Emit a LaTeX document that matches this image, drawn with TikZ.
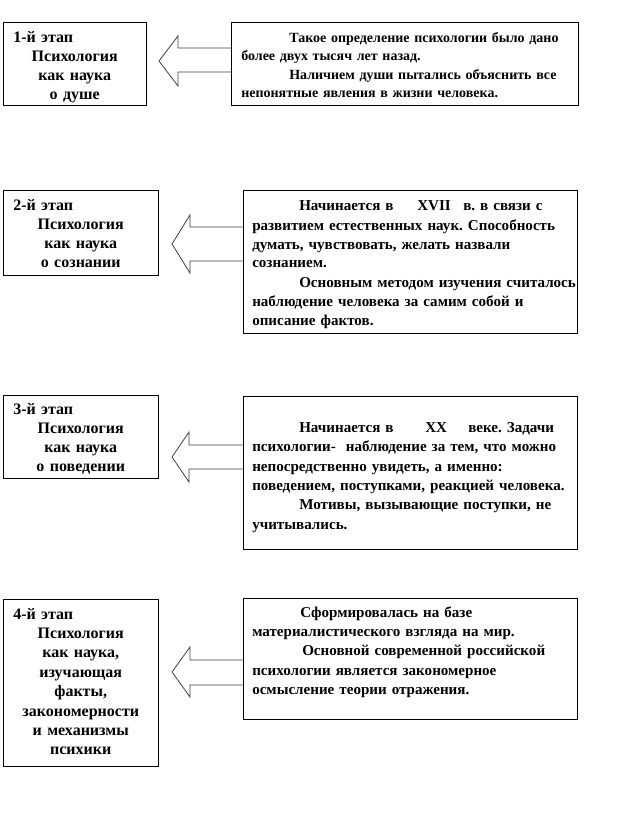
\documentclass[tikz,border=0pt]{standalone}
\usepackage{fontspec}
\setmainfont{Liberation Serif}
\usetikzlibrary{calc}
\newlength\pxu \setlength\pxu{0.75pt}
\frenchspacing
\tikzset{
  stagebox/.style={draw=black, line width=0.75pt, fill=white, inner sep=0pt, outer sep=0pt, rectangle},
  blockarrow/.style={draw=black!75, line width=0.6pt, fill=white, line join=miter},
  txtL/.style={font=\fontsize{12pt}{14.25pt}\selectfont\bfseries, inner sep=0pt, anchor=base west, align=center},
  txtR/.style={font=\fontsize{11.3pt}{14.25pt}\selectfont\bfseries, inner sep=0pt, anchor=base west, align=left, text width=380\pxu},
}
\begin{document}
\begin{tikzpicture}[x=0.75pt,y=-0.75pt]
\useasboundingbox (0,0) rectangle (639,827);
% arrows
\draw[blockarrow] (231,48) -- (178,48) -- (178,36) -- (159,61) -- (178,86) -- (178,72) -- (231,72);
\draw[blockarrow] (243,227) -- (190,227) -- (190,215) -- (172,244) -- (190,273) -- (190,261) -- (243,261);
\draw[blockarrow] (243,445) -- (189,445) -- (189,432) -- (172,457) -- (189,482) -- (189,469) -- (243,469);
\draw[blockarrow] (243,660) -- (190,660) -- (190,647) -- (172,672) -- (190,697) -- (190,685) -- (243,685);
% boxes
\node[stagebox, minimum width=143\pxu, minimum height=83\pxu] (l1) at (74.5,64.5) {};
\node[stagebox, minimum width=347\pxu, minimum height=83\pxu] (r1) at (404.5,64.5) {};
\node[stagebox, minimum width=155\pxu, minimum height=84\pxu] (l2) at (80.5,233) {};
\node[stagebox, minimum width=334\pxu, minimum height=142\pxu] (r2) at (410,262) {};
\node[stagebox, minimum width=155\pxu, minimum height=83\pxu] (l3) at (80.5,436.5) {};
\node[stagebox, minimum width=334\pxu, minimum height=153\pxu] (r3) at (410,472.5) {};
\node[stagebox, minimum width=155\pxu, minimum height=167\pxu] (l4) at (80.5,682.5) {};
\node[stagebox, minimum width=334\pxu, minimum height=121\pxu] (r4) at (410,658.5) {};
% left texts
\node[txtL, text width=123\pxu] (l1t) at ($(l1.north west)+(10,19.5)$)
  {\hbox to\linewidth{1-й этап\hfil}\\Психология\\как наука\\о душе};
\node[txtL, text width=135\pxu] (l2t) at ($(l2.north west)+(10,19)$)
  {\hbox to\linewidth{2-й этап\hfil}\\Психология\\как наука\\о сознании};
\node[txtL, text width=135\pxu] (l3t) at ($(l3.north west)+(10,19)$)
  {\hbox to\linewidth{3-й этап\hfil}\\Психология\\как наука\\о поведении};
\node[txtL, text width=135\pxu, font=\fontsize{12pt}{14.55pt}\selectfont\bfseries] (l4t) at ($(l4.north west)+(10,20)$)
  {\hbox to\linewidth{4-й этап\hfil}\\Психология\\как наука,\\изучающая\\факты,\\закономерности\\и механизмы\\психики};
% right texts
\node[txtR, font=\fontsize{10.5pt}{13.7pt}\selectfont\bfseries] (r1t) at ($(r1.north west)+(10,19.5)$)
  {\hspace*{48\pxu}Такое определение психологии было дано\\
   более двух тысяч лет назад.\\
   \hspace*{48\pxu}Наличием души пытались объяснить все\\
   непонятные явления в жизни человека.};
\node[txtR] (r2t) at ($(r2.north west)+(9,20)$)
  {\hspace*{47\pxu}\makebox[118\pxu][l]{Начинается в}\makebox[46\pxu][l]{XVII}в. в связи с\\
   развитием естественных наук. Способность\\
   думать, чувствовать, желать назвали\\
   сознанием.\\
   \hspace*{47\pxu}Основным методом изучения считалось\\
   наблюдение человека за самим собой и\\
   описание фактов.};
\node[txtR, font=\fontsize{11.3pt}{14.5pt}\selectfont\bfseries] (r3t) at ($(r3.north west)+(9,36.5)$)
  {\hspace*{47\pxu}\makebox[126\pxu][l]{Начинается в}\makebox[43\pxu][l]{XX}веке. Задачи\\
   психологии-\ \ наблюдение за тем, что можно\\
   непосредственно увидеть, а именно:\\
   поведением, поступками, реакцией человека.\\
   \hspace*{47\pxu}Мотивы, вызывающие поступки, не\\
   учитывались.};
\node[txtR, font=\fontsize{11.3pt}{14.4pt}\selectfont\bfseries] (r4t) at ($(r4.north west)+(9,19.5)$)
  {\hspace*{48\pxu}Сформировалась на базе\\
   материалистического взгляда на мир.\\
   \hspace*{50\pxu}Основной современной российской\\
   психологии является закономерное\\
   осмысление теории отражения.};
\end{tikzpicture}
\end{document}
